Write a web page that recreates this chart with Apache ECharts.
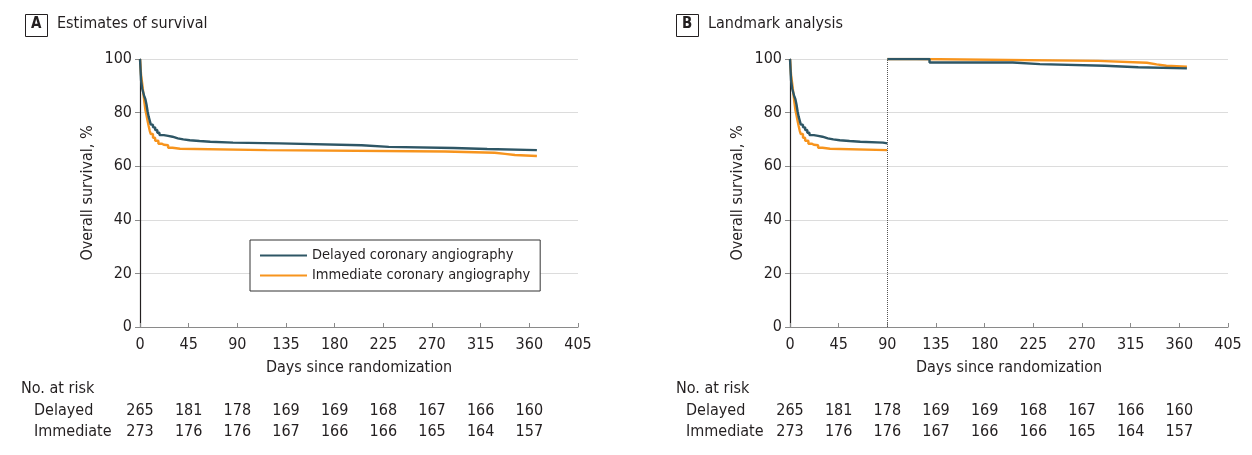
<!DOCTYPE html>
<html>
<head>
<meta charset="utf-8">
<script src="https://cdn.jsdelivr.net/npm/echarts@6/dist/echarts.min.js"></script>
<style>
html,body{margin:0;padding:0;background:#fff;}
#chart{width:1252px;height:455px;}
</style>
</head>
<body>
<div id="chart"></div>
<script>
// ---- Data ----
const xTicks = [0, 45, 90, 135, 180, 225, 270, 315, 360, 405];
const riskTimes = [0, 45, 90, 135, 180, 225, 270, 315, 360];
const riskDelayed = [265, 181, 178, 169, 169, 168, 167, 166, 160];
const riskImmediate = [273, 176, 176, 167, 166, 166, 165, 164, 157];
const riskRows = ['Delayed', 'Immediate'];

// Panel A: Kaplan-Meier estimates (days, % survival)
const delayedT = [0, 0.5, 1, 2, 3, 4, 5, 6, 7, 8, 9, 10, 12, 14, 16, 18, 22, 26, 30, 35, 40, 46, 55, 65, 86, 129, 205, 230, 290, 321, 367];
const delayedS = [100, 96, 92, 89, 87.5, 86, 85, 83, 80.5, 78.5, 77, 75.5, 74.5, 73.5, 72.5, 71.6, 71.3, 71.0, 70.4, 70.0, 69.7, 69.4, 69.1, 68.8, 68.5, 67.8, 67.2, 66.8, 66.4, 66.0, 66.0];
const immT = [0, 0.5, 1, 2, 3, 4, 5, 6, 7, 8, 9, 10, 12, 14, 17, 20, 22, 26, 30, 37, 117, 282, 328, 337.5, 346.7, 367];
const immS = [100, 97, 94, 91, 87.5, 84, 81, 79, 77, 75, 73.2, 72, 70.6, 69.5, 68.4, 68.0, 67.8, 66.9, 66.5, 66.0, 65.5, 65.0, 64.6, 64.2, 63.8, 63.8];

// Panel B: landmark analysis after day 90
const landmarkDay = 90;
const lmDelT = [90, 129, 206, 231, 291, 322, 367];
const lmDelS = [100, 98.7, 98.1, 97.5, 96.9, 96.5, 96.5];
const lmImmT = [90, 117, 285, 330, 339, 348, 367];
const lmImmS = [100, 99.3, 98.6, 98.0, 97.5, 97.1, 97.1];

const nameDelayed = 'Delayed coronary angiography';
const nameImmediate = 'Immediate coronary angiography';

// ---- Build ----
const FONT = '"DejaVu Sans Condensed", "Liberation Sans Narrow", "Liberation Sans", sans-serif';
const C_DEL = '#2e5665';
const C_IMM = '#f7941d';
const TXT = '#231f20';

// Kaplan-Meier step function: horizontal until next event time, then drop
function steps(t, s) {
  const out = [[t[0], s[0]]];
  for (let i = 1; i < t.length; i++) {
    out.push([t[i], s[i - 1]]);
    out.push([t[i], s[i]]);
  }
  return out;
}
function upTo(t, s, limit) {
  const tt = [], ss = [];
  for (let i = 0; i < t.length; i++) {
    if (t[i] <= limit) { tt.push(t[i]); ss.push(s[i]); }
  }
  tt.push(limit); ss.push(ss[ss.length - 1]);
  return steps(tt, ss);
}
function riskData(vals, row) { return riskTimes.map((t, i) => [t, row, vals[i]]); }

const chart = echarts.init(document.getElementById('chart'), null, {renderer: 'canvas'});

function plotX(gi) {
  return {
    gridIndex: gi, type: 'value', min: 0, max: 405, interval: 45,
    axisLine: {show: true, lineStyle: {color: '#8a8a8a', width: 1.2}},
    axisTick: {show: true, inside: true, length: 4, lineStyle: {color: '#8a8a8a'}},
    axisLabel: {fontFamily: FONT, fontSize: 16, color: TXT, margin: 10},
    splitLine: {show: false},
    name: 'Days since randomization', nameLocation: 'middle', nameGap: 33,
    nameTextStyle: {fontFamily: FONT, fontSize: 16, color: TXT}
  };
}
function plotY(gi) {
  return {
    gridIndex: gi, type: 'value', min: 0, max: 100, interval: 20,
    axisLine: {show: true, lineStyle: {color: '#231f20', width: 1.2}},
    axisTick: {show: true, inside: false, length: 5, lineStyle: {color: '#8a8a8a'}},
    axisLabel: {fontFamily: FONT, fontSize: 16, color: TXT, margin: 8},
    splitLine: {show: true, lineStyle: {color: '#dcdcdc', width: 1.2}},
    name: 'Overall survival, %', nameLocation: 'middle', nameGap: 44, nameRotate: 90,
    nameTextStyle: {fontFamily: FONT, fontSize: 16, color: TXT}
  };
}
function riskX(gi) {
  return {gridIndex: gi, type: 'value', min: 0, max: 405, interval: 45, show: false};
}
function riskY(gi, margin) {
  return {
    gridIndex: gi, type: 'category', data: riskRows, inverse: true,
    axisLine: {show: false}, axisTick: {show: false}, splitLine: {show: false},
    axisLabel: {align: 'left', margin: margin, fontFamily: FONT, fontSize: 16, color: TXT}
  };
}
function kmLine(name, data, color, xi, yi, extra) {
  return Object.assign({
    type: 'line', name: name, xAxisIndex: xi, yAxisIndex: yi, data: data,
    showSymbol: false, symbol: 'none',
    lineStyle: {color: color, width: 2.4}, itemStyle: {color: color},
    emphasis: {disabled: true}, z: 3
  }, extra || {});
}
function riskSeries(vals, row, xi, yi) {
  return {
    type: 'scatter', xAxisIndex: xi, yAxisIndex: yi, data: riskData(vals, row),
    symbolSize: 0, silent: true, itemStyle: {opacity: 1},
    label: {show: true, position: 'inside', formatter: p => String(p.value[2]),
      fontFamily: FONT, fontSize: 16, color: TXT, opacity: 1}
  };
}

const option = {
  animation: false,
  backgroundColor: '#ffffff',
  grid: [
    {left: 140, top: 59, width: 438, height: 268},
    {left: 790, top: 59, width: 438, height: 268},
    {left: 140, top: 400.5, width: 438, height: 42},
    {left: 790, top: 400.5, width: 438, height: 42}
  ],
  xAxis: [plotX(0), plotX(1), riskX(2), riskX(3)],
  yAxis: [plotY(0), plotY(1), riskY(2, 106), riskY(3, 104)],
  legend: {
    data: [nameDelayed, nameImmediate],
    left: 250, top: 240, orient: 'vertical',
    borderColor: '#333', borderWidth: 1, backgroundColor: '#fff',
    padding: [8, 10, 8, 10], itemGap: 5,
    icon: 'rect', itemWidth: 47, itemHeight: 2,
    textStyle: {fontFamily: FONT, fontSize: 14.5, color: TXT},
    selectedMode: false
  },
  series: [
    kmLine(nameDelayed, steps(delayedT, delayedS), C_DEL, 0, 0, {z: 4}),
    kmLine(nameImmediate, steps(immT, immS), C_IMM, 0, 0),
    kmLine(nameDelayed, upTo(delayedT, delayedS, landmarkDay), C_DEL, 1, 1, {z: 4}),
    kmLine(nameImmediate, upTo(immT, immS, landmarkDay), C_IMM, 1, 1),
    kmLine(nameImmediate, steps(lmImmT, lmImmS), C_IMM, 1, 1),
    kmLine(nameDelayed, steps(lmDelT, lmDelS), C_DEL, 1, 1, {
      z: 4,
      markLine: {
        silent: true, symbol: ['none', 'none'], label: {show: false},
        lineStyle: {type: 'dotted', color: '#555', width: 1},
        data: [{xAxis: landmarkDay}]
      }
    }),
    riskSeries(riskDelayed, 'Delayed', 2, 2),
    riskSeries(riskImmediate, 'Immediate', 2, 2),
    riskSeries(riskDelayed, 'Delayed', 3, 3),
    riskSeries(riskImmediate, 'Immediate', 3, 3)
  ],
  graphic: [
    {type: 'rect', left: 25, top: 14, shape: {width: 22, height: 22},
      style: {fill: '#fff', stroke: '#231f20', lineWidth: 1}},
    {type: 'text', left: 31, top: 17, style: {text: 'A', font: 'bold 15px ' + FONT, fill: TXT}},
    {type: 'text', left: 57, top: 16, style: {text: 'Estimates of survival', font: '16px ' + FONT, fill: TXT}},
    {type: 'rect', left: 676, top: 14, shape: {width: 22, height: 22},
      style: {fill: '#fff', stroke: '#231f20', lineWidth: 1}},
    {type: 'text', left: 682, top: 17, style: {text: 'B', font: 'bold 15px ' + FONT, fill: TXT}},
    {type: 'text', left: 708, top: 16, style: {text: 'Landmark analysis', font: '16px ' + FONT, fill: TXT}},
    {type: 'text', left: 21, top: 381, style: {text: 'No. at risk', font: '16px ' + FONT, fill: TXT}},
    {type: 'text', left: 676, top: 381, style: {text: 'No. at risk', font: '16px ' + FONT, fill: TXT}}
  ]
};
chart.setOption(option);
</script>
</body>
</html>
